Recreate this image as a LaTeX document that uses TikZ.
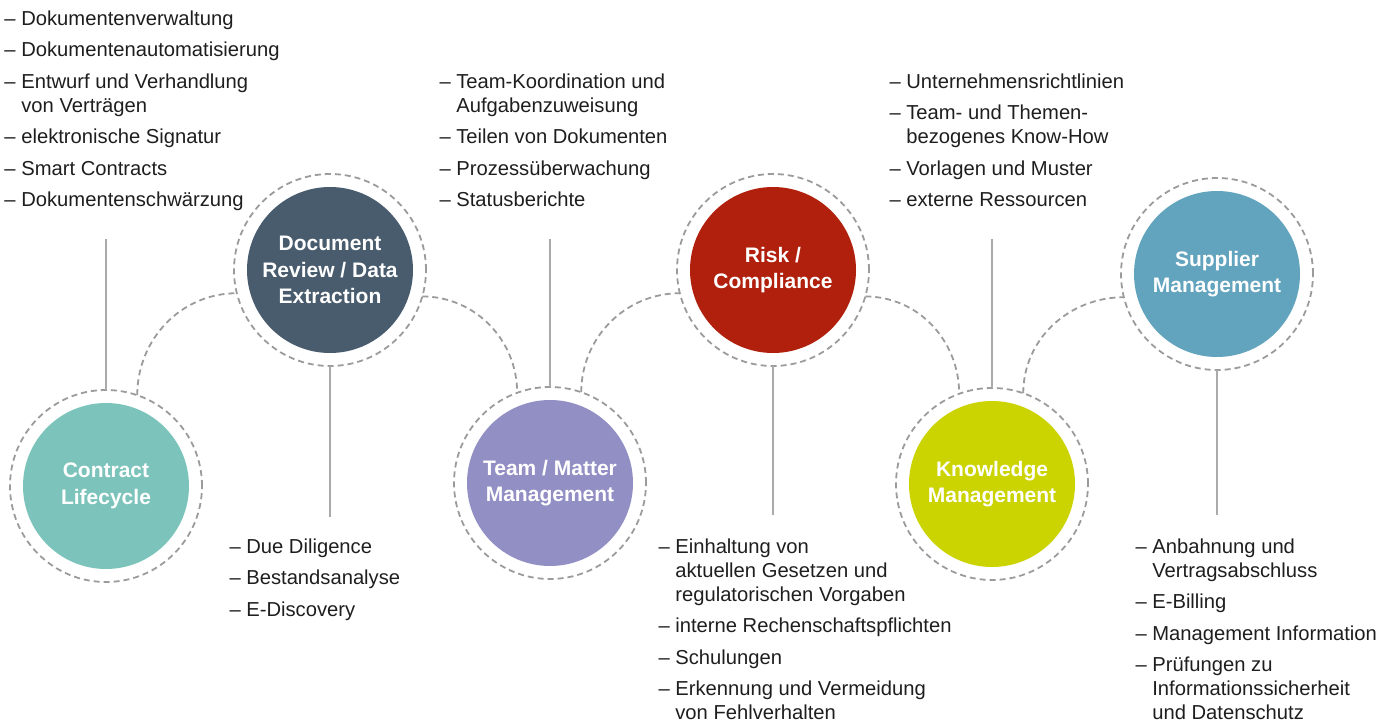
\documentclass[tikz,border=0pt]{standalone}
\usepackage{fontspec}
\setmainfont{Liberation Sans}
\usetikzlibrary{positioning}

\definecolor{clteal}{HTML}{7CC4BB}
\definecolor{drslate}{HTML}{485C6E}
\definecolor{tmlilac}{HTML}{928FC4}
\definecolor{rcred}{HTML}{B0200C}
\definecolor{kmlime}{HTML}{CBD300}
\definecolor{smblue}{HTML}{62A3BE}
\definecolor{ringgray}{HTML}{9B9B9B}
\definecolor{stemgray}{HTML}{AAAAAA}
\definecolor{listblack}{HTML}{1E1E1E}

\newcommand{\liststrut}{\rule{0pt}{16pt}}
\newcommand{\ind}{\hphantom{–~}}

\begin{document}
\begin{tikzpicture}[x=1pt, y=1pt,
  ring/.style={circle,draw=ringgray,line width=1.8pt,dash pattern=on 6pt off 4pt,minimum size=192pt,inner sep=0pt,outer sep=0pt},
  disc/.style={circle,fill=#1,minimum size=166pt,inner sep=0pt,text=white,align=center,font=\fontsize{21}{26.5}\selectfont\bfseries},
  list/.style={anchor=north west,inner sep=0pt,align=left,text=listblack,font=\fontsize{20.2}{24}\selectfont},
  link/.style={draw=ringgray,line width=1.8pt,dash pattern=on 6pt off 4pt},
  stem/.style={draw=stemgray,line width=1.4pt}]
\useasboundingbox (0,0) rectangle (1397,724);

% circles
\node[ring] (clring) at (106,238) {};
\node[disc=clteal] (cl) at (clring) {Contract\\Lifecycle};
\node[ring] (drring) at (330,454) {};
\node[disc=drslate] (dr) at (drring) {Document\\Review / Data\\Extraction};
\node[ring] (tmring) at (550,241) {};
\node[disc=tmlilac] (tm) at (tmring) {Team / Matter\\Management};
\node[ring] (rcring) at (773,454) {};
\node[disc=rcred] (rc) at (rcring) {Risk /\\Compliance};
\node[ring] (kmring) at (992,240) {};
\node[disc=kmlime] (km) at (kmring) {Knowledge\\Management};
\node[ring] (smring) at (1217,450) {};
\node[disc=smblue] (sm) at (smring) {Supplier\\Management};

% dashed arcs between the circles
\draw[link] (clring.71) to[out=90,in=180] (drring.194);
\draw[link] (drring.-16) to[out=0,in=90] (tmring.110);
\draw[link] (tmring.71) to[out=90,in=180] (rcring.194);
\draw[link] (rcring.-16) to[out=0,in=90] (kmring.110);
\draw[link] (kmring.71) to[out=90,in=180] (smring.194);

% lists
\node[list] (cllist) at (4.3,715) {\liststrut– Dokumentenverwaltung\\[7.5pt]
  – Dokumentenautomatisierung\\[7.5pt]
  – Entwurf und Verhandlung\\ \ind von Verträgen\\[7.5pt]
  – elektronische Signatur\\[7.5pt]
  – Smart Contracts\\[7.5pt]
  – Dokumentenschwärzung};
\node[list] (drlist) at (229.3,187) {\liststrut– Due Diligence\\[7.5pt]
  – Bestandsanalyse\\[7.5pt]
  – E-Discovery};
\node[list] (tmlist) at (439.3,652) {\liststrut– Team-Koordination und\\ \ind Aufgabenzuweisung\\[7.5pt]
  – Teilen von Dokumenten\\[7.5pt]
  – Prozessüberwachung\\[7.5pt]
  – Statusberichte};
\node[list] (rclist) at (658.3,187) {\liststrut– Einhaltung von\\ \ind aktuellen Gesetzen und\\ \ind regulatorischen Vorgaben\\[7.5pt]
  – interne Rechenschaftspflichten\\[7.5pt]
  – Schulungen\\[7.5pt]
  – Erkennung und Vermeidung\\ \ind von Fehlverhalten};
\node[list] (kmlist) at (889.3,652) {\liststrut– Unternehmensrichtlinien\\[7.5pt]
  – Team- und Themen-\\ \ind bezogenes Know-How\\[7.5pt]
  – Vorlagen und Muster\\[7.5pt]
  – externe Ressourcen};
\node[list] (smlist) at (1135.3,187) {\liststrut– Anbahnung und\\ \ind Vertragsabschluss\\[7.5pt]
  – E-Billing\\[7.5pt]
  – Management Information\\[7.5pt]
  – Prüfungen zu\\ \ind Informationssicherheit\\ \ind und Datenschutz};

% stems
\coordinate (clstem) at (106,485);
\coordinate (drstem) at (330,207);
\coordinate (tmstem) at (550,485);
\coordinate (rcstem) at (773,209);
\coordinate (kmstem) at (992,485);
\coordinate (smstem) at (1217,209);
\draw[stem] (clstem) -- (clring.north);
\draw[stem] (drring.south) -- (drstem);
\draw[stem] (tmstem) -- (tmring.north);
\draw[stem] (rcring.south) -- (rcstem);
\draw[stem] (kmstem) -- (kmring.north);
\draw[stem] (smring.south) -- (smstem);
\end{tikzpicture}
\end{document}
